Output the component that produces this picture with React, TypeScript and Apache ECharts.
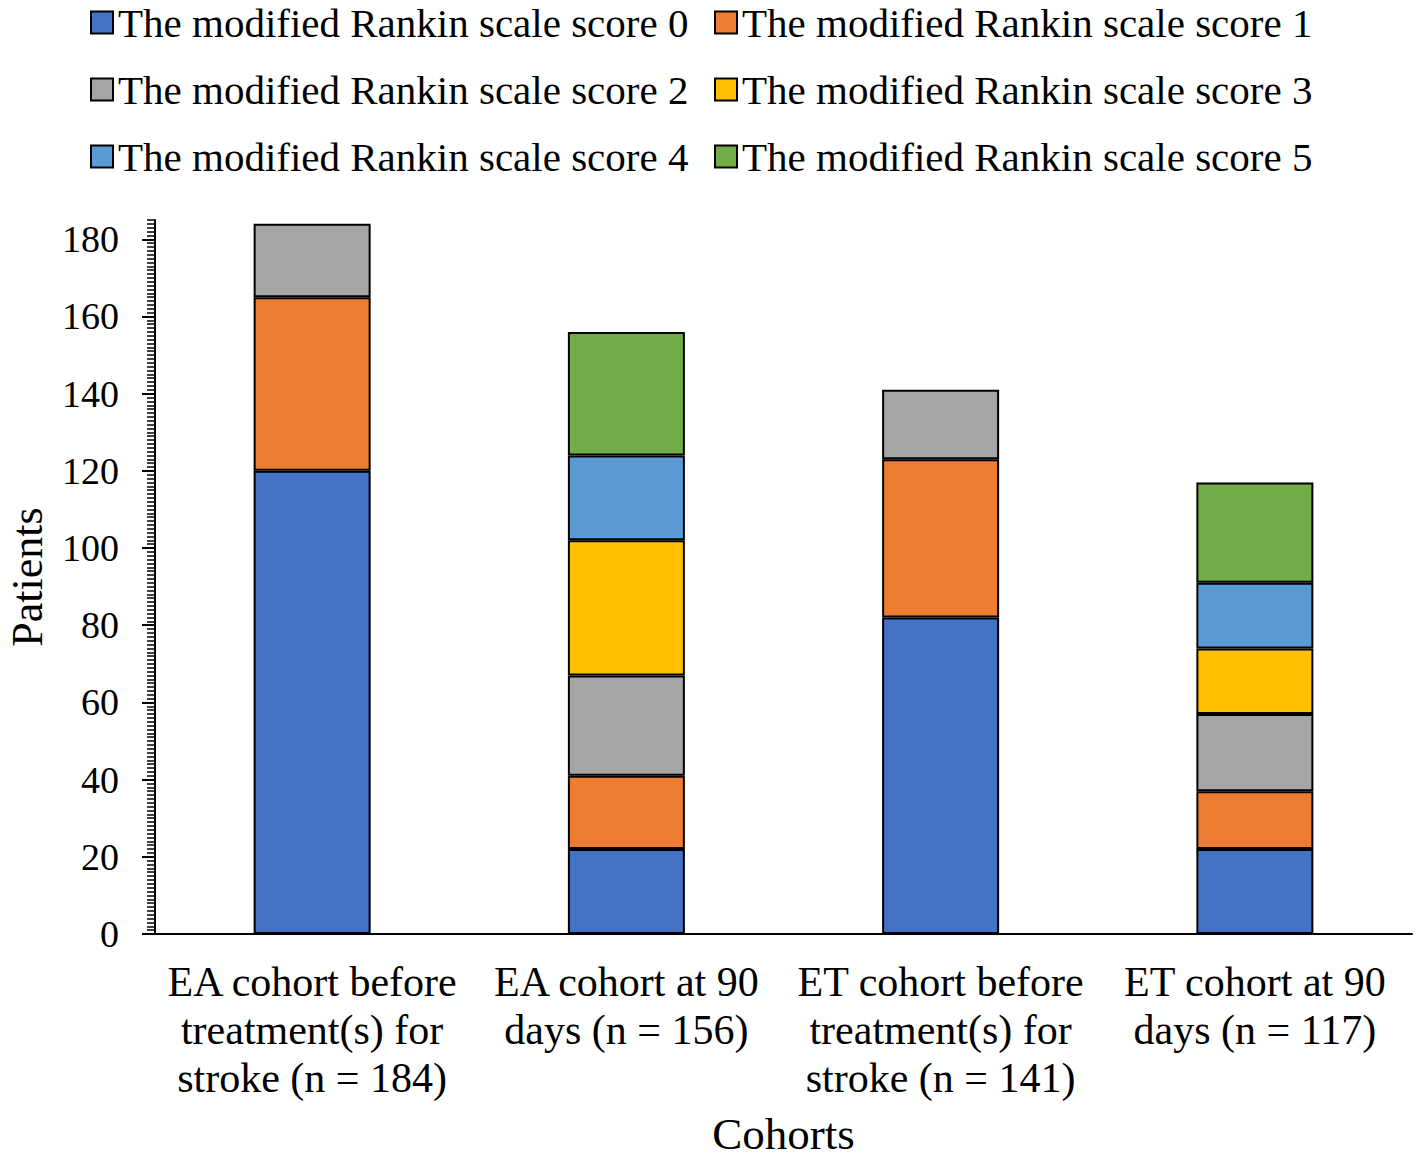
import React, { useEffect, useRef } from "react";
import * as echarts from "echarts";

const categories = [
  "EA cohort before\ntreatment(s) for\nstroke (n = 184)",
  "EA cohort at 90\ndays (n = 156)",
  "ET cohort before\ntreatment(s) for\nstroke (n = 141)",
  "ET cohort at 90\ndays (n = 117)",
];

const seriesNames = [
  "The modified Rankin scale score 0",
  "The modified Rankin scale score 1",
  "The modified Rankin scale score 2",
  "The modified Rankin scale score 3",
  "The modified Rankin scale score 4",
  "The modified Rankin scale score 5",
];

const mrs0 = [120, 22, 82, 22];
const mrs1 = [45, 19, 41, 15];
const mrs2 = [19, 26, 18, 20];
const mrs3 = [null, 35, null, 17];
const mrs4 = [null, 22, null, 17];
const mrs5 = [null, 32, null, 26];

const colors = ["#4472C4", "#ED7D31", "#A5A5A5", "#FFC000", "#5B9BD5", "#70AD47"];

const yTickValues = [0, 20, 40, 60, 80, 100, 120, 140, 160, 180];

const FONT = '"Liberation Serif", "Times New Roman", serif';

export default function App() {
  const ref = useRef<HTMLDivElement>(null);
  useEffect(() => {
    const chart = echarts.init(ref.current!, null, { renderer: "svg" });
    const allData = [mrs0, mrs1, mrs2, mrs3, mrs4, mrs5];
    const legendCommon = {
      orient: "vertical",
      top: 2,
      padding: 0,
      itemWidth: 22,
      itemHeight: 22,
      itemGap: 26,
      icon: "rect",
      textStyle: { fontSize: 41, lineHeight: 40, color: "#000", fontFamily: FONT },
    };
    chart.setOption({
      animation: false,
      textStyle: { fontFamily: FONT },
      legend: [
        { ...legendCommon, left: 90, data: [seriesNames[0], seriesNames[2], seriesNames[4]] },
        { ...legendCommon, left: 714, data: [seriesNames[1], seriesNames[3], seriesNames[5]] },
      ],
      grid: {
        left: 155,
        right: 6,
        top: 220,
        bottom: 226,
        containLabel: false,
        outerBoundsMode: "none",
      },
      xAxis: [
        {
          type: "category",
          data: categories,
          position: "bottom",
          boundaryGap: true,
          axisLine: { lineStyle: { color: "#000", width: 2 } },
          axisTick: { length: 8, lineStyle: { color: "#000", width: 2 } },
          axisLabel: {
            interval: 0,
            fontSize: 42,
            lineHeight: 48,
            color: "#000",
            fontFamily: FONT,
            margin: 24,
          },
          name: "Cohorts",
          nameLocation: "middle",
          nameGap: 178,
          nameTextStyle: { fontSize: 45, lineHeight: 44, color: "#000", fontFamily: FONT },
        },
        {
          type: "category",
          data: categories,
          position: "bottom",
          axisLine: { show: false },
          axisTick: { alignWithLabel: true, length: 8, lineStyle: { color: "#000", width: 2 } },
          axisLabel: { show: false },
        },
      ],
      yAxis: [
        {
          type: "value",
          position: "left",
          min: 0,
          max: 185,
          interval: 20,
          axisLine: { show: true, lineStyle: { color: "#000", width: 2 } },
          axisTick: { show: true, length: 13, customValues: yTickValues, lineStyle: { color: "#000", width: 2 } },
          axisLabel: { customValues: yTickValues, fontSize: 38, color: "#000", fontFamily: FONT, margin: 36 },
          splitLine: { show: false },
          name: "Patients",
          nameLocation: "middle",
          nameGap: 106,
          nameTextStyle: { fontSize: 44, lineHeight: 44, color: "#000", fontFamily: FONT },
        },
        {
          type: "value",
          position: "left",
          min: 0,
          max: 185,
          interval: 1,
          axisLine: { show: false },
          axisTick: { show: true, length: 8, lineStyle: { color: "#000", width: 1.5 } },
          axisLabel: { show: false },
          splitLine: { show: false },
        },
      ],
      series: allData.map((d, i) => ({
        name: seriesNames[i],
        type: "bar",
        stack: "total",
        xAxisIndex: 0,
        yAxisIndex: 0,
        barWidth: 117,
        data: d,
        itemStyle: { color: colors[i], borderColor: "#000", borderWidth: 2 },
      })),
    });
    return () => chart.dispose();
  }, []);
  return (
    <div
      ref={ref}
      style={{ position: "absolute", left: 0, top: 0, width: 1418, height: 1160, background: "#fff" }}
    />
  );
}
